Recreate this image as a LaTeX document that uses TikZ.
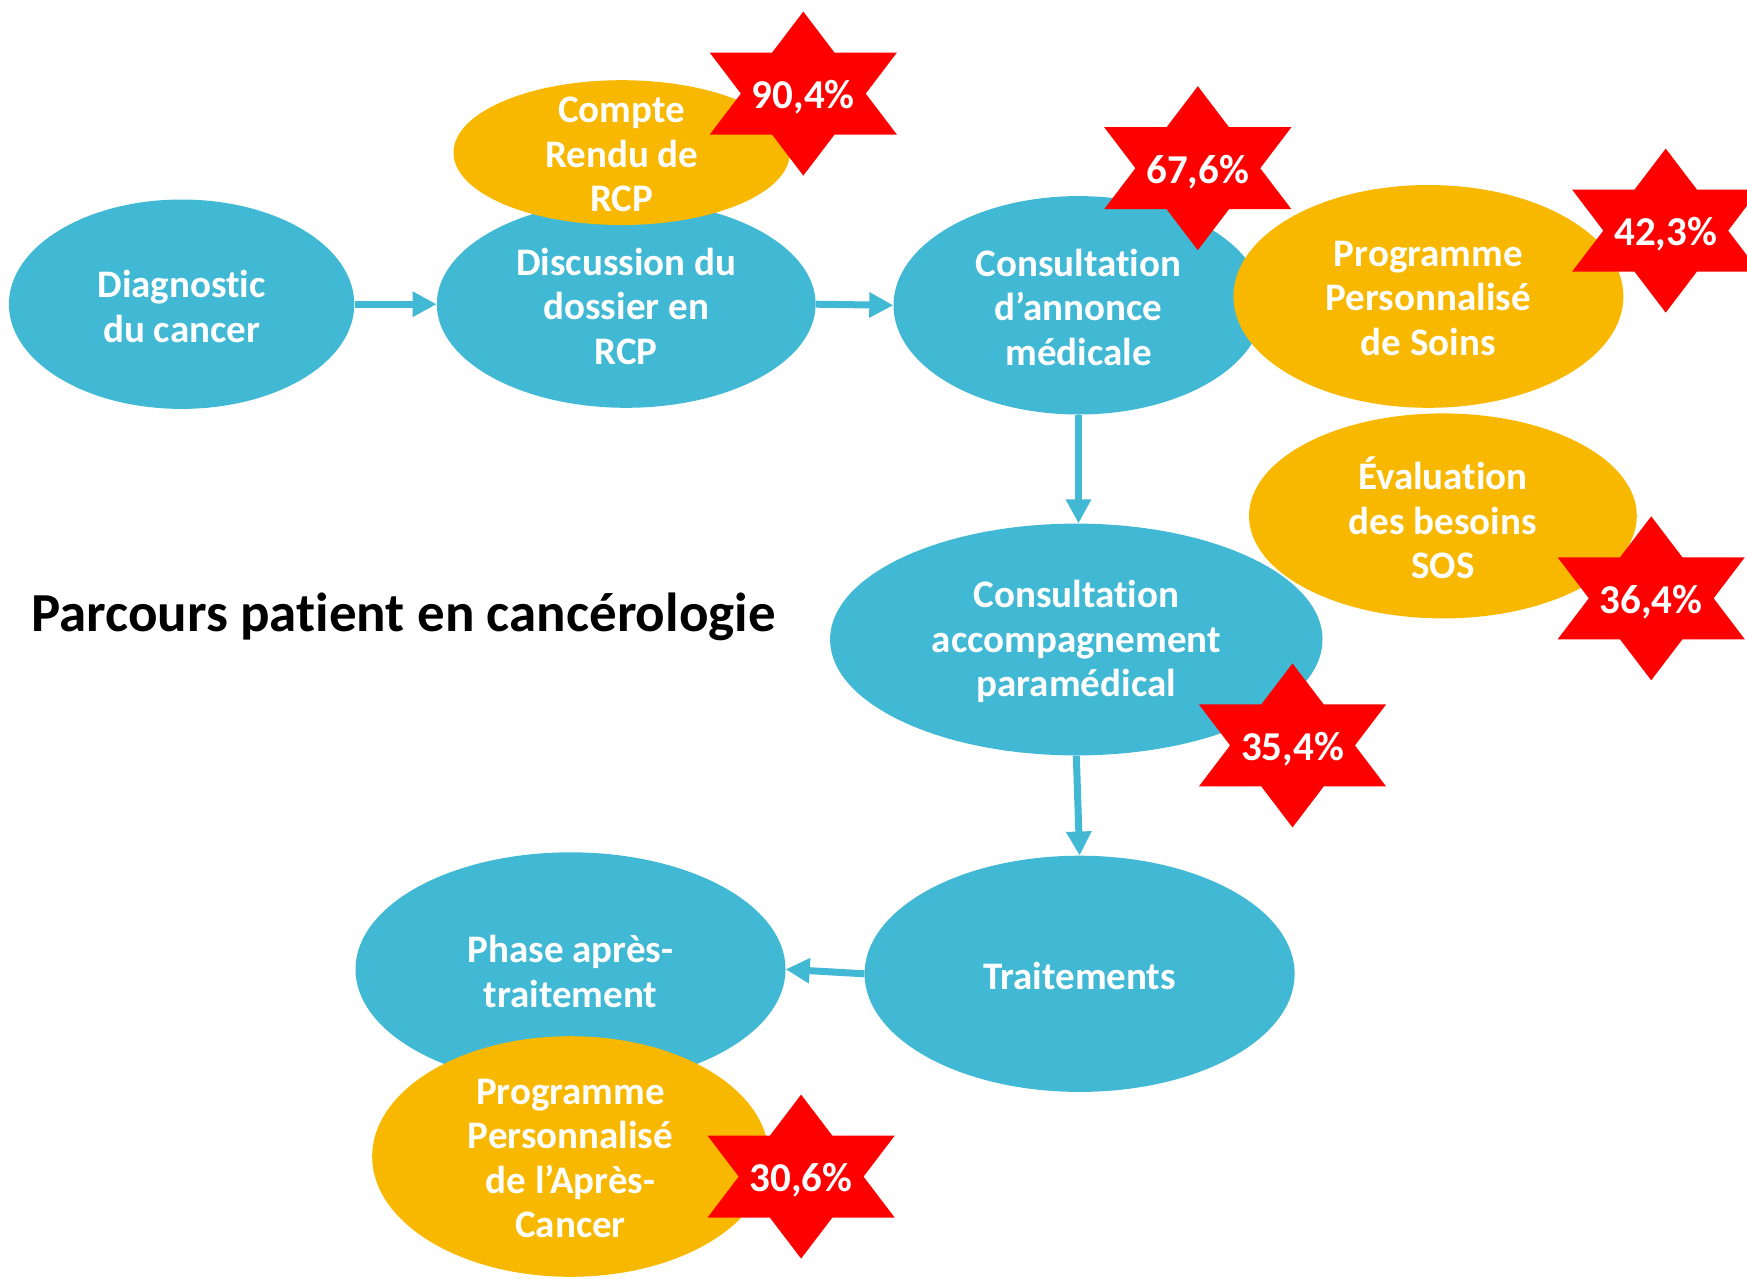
\documentclass[tikz,border=0pt]{standalone}
\usepackage{fontspec}
\setmainfont{Carlito}[Ligatures=NoCommon]
\usetikzlibrary{shapes.geometric,arrows.meta}
\definecolor{stageblue}{HTML}{41B9D4}
\definecolor{docorange}{HTML}{F9B800}
\definecolor{starred}{HTML}{FF0000}
\tikzset{
  stage/.style={ellipse, fill=stageblue, inner sep=0pt},
  doc/.style={ellipse, fill=docorange, inner sep=0pt},
  txt/.style={text=white, align=center, inner sep=0pt, yshift=-2pt,
    font=\bfseries\fontsize{39}{44.6}\selectfont},
  pct/.style={text=white, inner sep=0pt, yshift=-3.5pt,
    font=\bfseries\fontsize{41}{48}\selectfont},
  flow/.style={draw=stageblue, line width=7pt,
    -{Triangle[length=24pt,width=24pt]}},
  hexagram/.pic={
    \fill[starred] (0,82) -- (31.2,41) -- (93.6,41) -- (62.4,0) -- (93.6,-41)
      -- (31.2,-41) -- (0,-82) -- (-31.2,-41) -- (-93.6,-41) -- (-62.4,0)
      -- (-93.6,41) -- (-31.2,41) -- cycle;
  }
}
\begin{document}
\begin{tikzpicture}[x=1pt, y=-1pt]
\clip (0,0) rectangle (1747,1278);

% stages of the care pathway
\node[stage, minimum width=345.4pt, minimum height=209.4pt] (diag) at (181.6,304.2) {};
\node[stage, minimum width=378.8pt, minimum height=207.2pt] (disc) at (626.2,304.2) {};
\node[stage, minimum width=370pt, minimum height=218.4pt] (annonce) at (1078.5,305.3) {};
\node[stage, minimum width=492.4pt, minimum height=231.8pt] (param) at (1076.3,639.5) {};
\node[stage, minimum width=430pt, minimum height=236.2pt] (trait) at (1079.6,973.8) {};
\node[stage, minimum width=430pt, minimum height=234pt] (phase) at (570.5,969.3) {};

% documents attached to the stages
\node[doc, minimum width=336.4pt, minimum height=144.8pt] (crrcp) at (621.7,152.6) {};
\node[doc, minimum width=390pt, minimum height=222.8pt] (pps) at (1428.4,296.4) {};
\node[doc, minimum width=387.8pt, minimum height=205pt] (eval) at (1442.9,515.9) {};
\node[doc, minimum width=396.6pt, minimum height=240.6pt] (ppac) at (570.5,1156.5) {};

% labels
\node[txt] (diag-t) at (diag.center) {Diagnostic\\du cancer};
\node[txt] (disc-t) at (disc.center) {Discussion du\\dossier en\\RCP};
\node[txt] (annonce-t) at (annonce.center) {Consultation\\d’annonce\\médicale};
\node[txt] (param-t) at (param.center) {Consultation\\accompagnement\\paramédical};
\node[txt] (trait-t) at (trait.center) {Traitements};
\node[txt] (phase-t) at (phase.center) {Phase après-\\traitement};
\node[txt] (crrcp-t) at (crrcp.center) {Compte\\Rendu de\\RCP};
\node[txt] (pps-t) at (pps.center) {Programme\\Personnalisé\\de Soins};
\node[txt] (eval-t) at (eval.center) {Évaluation\\des besoins\\SOS};
\node[txt] (ppac-t) at (ppac.center) {Programme\\Personnalisé\\de l’Après-\\Cancer};

% rates
\pic at (803.3,93.6) {hexagram};
\node[pct] (r1) at (803.3,93.6) {90,4\%};
\pic at (1197.8,168.2) {hexagram};
\node[pct] (r2) at (1197.8,168.2) {67,6\%};
\pic at (1665.7,230.6) {hexagram};
\node[pct] (r3) at (1665.7,230.6) {42,3\%};
\pic at (1651.2,598.3) {hexagram};
\node[pct] (r4) at (1651.2,598.3) {36,4\%};
\pic at (1292.5,745.4) {hexagram};
\node[pct] (r5) at (1292.5,745.4) {35,4\%};
\pic at (801.1,1176.6) {hexagram};
\node[pct] (r6) at (801.1,1176.6) {30,6\%};

% flow between stages
\draw[flow] (diag.east) -- (disc.west);
\draw[flow] (disc.east) -- (annonce.west);
\draw[flow] (annonce.south) -- (annonce.south |- param.north);
\draw[flow] (param.south) -- (trait.north);
\draw[flow] (trait.west) -- (phase.east);

% title
\node[anchor=base west, inner sep=0pt, font=\bfseries\fontsize{55}{66}\selectfont] (title) at (31,631) {Parcours patient en cancérologie};
\end{tikzpicture}
\end{document}
